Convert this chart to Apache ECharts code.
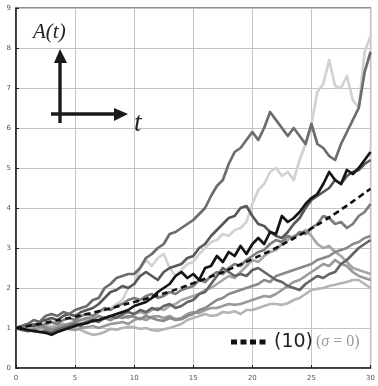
<!DOCTYPE html>
<html>
<head>
<meta charset="utf-8">
<script src="https://cdn.jsdelivr.net/npm/echarts@6/dist/echarts.min.js"></script>
<style>
    html, body { margin: 0; padding: 0; background: #fff; }
    #chart { width: 378px; height: 386px; }
</style>
</head>
<body>
<div id="chart"></div>
<script>
// Sample paths A(t), every 0.5 time units (t = 0 .. 30)
const pathLight = [1.0, 1.02, 1.0, 1.05, 1.04, 1.08, 1.05, 1.1, 1.08, 1.12, 1.15, 1.2, 1.25, 1.3, 1.4, 1.45, 1.5, 1.6, 1.7, 2.0, 2.1, 2.5, 2.7, 2.55, 2.75, 2.85, 2.5, 2.3, 2.45, 2.6, 2.65, 2.85, 3.0, 3.15, 3.2, 3.35, 3.3, 3.45, 3.5, 3.65, 4.1, 4.45, 4.6, 4.9, 5.0, 4.8, 4.9, 4.7, 5.2, 5.6, 6.1, 6.9, 7.1, 7.7, 7.05, 7.0, 7.3, 6.7, 6.5, 7.9, 8.3];
const pathDark1 = [1.0, 1.05, 1.1, 1.2, 1.15, 1.3, 1.35, 1.3, 1.4, 1.35, 1.45, 1.5, 1.55, 1.7, 1.75, 2.0, 2.1, 2.25, 2.3, 2.35, 2.35, 2.5, 2.75, 2.85, 3.0, 3.1, 3.35, 3.4, 3.5, 3.6, 3.7, 3.85, 4.0, 4.3, 4.55, 4.7, 5.1, 5.4, 5.5, 5.7, 5.9, 5.7, 6.0, 6.4, 6.2, 6.0, 5.8, 6.0, 5.8, 5.6, 6.1, 5.6, 5.5, 5.3, 5.2, 5.6, 5.9, 6.2, 6.5, 7.4, 7.9];
const pathBlack = [1.0, 0.98, 0.95, 0.92, 0.9, 0.88, 0.83, 0.9, 0.95, 1.0, 1.05, 1.1, 1.12, 1.18, 1.2, 1.25, 1.3, 1.35, 1.4, 1.45, 1.55, 1.6, 1.65, 1.75, 1.9, 2.0, 2.1, 2.3, 2.4, 2.25, 2.35, 2.2, 2.5, 2.55, 2.8, 2.65, 2.9, 2.8, 3.05, 2.85, 3.1, 3.25, 3.1, 3.4, 3.35, 3.8, 3.65, 3.75, 3.9, 4.1, 4.25, 4.35, 4.6, 4.9, 4.7, 4.6, 4.95, 4.85, 5.0, 5.2, 5.4];
const pathDark2 = [1.0, 1.05, 1.1, 1.05, 1.15, 1.2, 1.25, 1.2, 1.3, 1.35, 1.3, 1.4, 1.45, 1.5, 1.6, 1.75, 1.9, 1.95, 2.05, 2.0, 2.1, 2.3, 2.4, 2.3, 2.2, 2.4, 2.5, 2.55, 2.6, 2.75, 2.8, 3.0, 3.1, 3.3, 3.45, 3.6, 3.75, 3.8, 4.0, 4.05, 3.8, 3.6, 3.55, 3.4, 3.3, 3.25, 3.4, 3.6, 3.75, 4.0, 4.2, 4.3, 4.4, 4.5, 4.7, 4.6, 4.8, 4.9, 4.95, 5.1, 5.2];
const pathGray1 = [1.0, 1.0, 1.05, 1.1, 1.05, 1.1, 1.15, 1.1, 1.2, 1.25, 1.2, 1.3, 1.35, 1.3, 1.4, 1.5, 1.45, 1.55, 1.6, 1.7, 1.75, 1.7, 1.8, 1.85, 1.75, 1.8, 1.9, 1.85, 1.95, 2.0, 2.05, 2.2, 2.15, 2.3, 2.4, 2.35, 2.5, 2.6, 2.55, 2.7, 2.8, 2.9, 2.95, 3.1, 3.2, 3.15, 3.3, 3.25, 3.4, 3.35, 3.5, 3.6, 3.8, 3.75, 3.6, 3.65, 3.5, 3.6, 3.8, 3.9, 4.1];
const pathGray2 = [1.0, 0.95, 0.92, 0.95, 0.9, 0.92, 0.88, 0.95, 1.0, 1.05, 1.1, 1.05, 1.15, 1.2, 1.15, 1.25, 1.3, 1.25, 1.35, 1.4, 1.35, 1.45, 1.4, 1.5, 1.45, 1.55, 1.6, 1.5, 1.55, 1.65, 1.7, 1.85, 1.9, 2.1, 2.3, 2.5, 2.4, 2.3, 2.35, 2.3, 2.45, 2.5, 2.4, 2.3, 2.2, 2.15, 2.05, 2.0, 1.95, 2.1, 2.2, 2.3, 2.25, 2.35, 2.4, 2.6, 2.7, 2.85, 3.0, 3.1, 3.2];
const pathGray3 = [1.0, 1.02, 1.0, 0.97, 1.0, 1.05, 1.0, 1.05, 1.1, 1.05, 1.12, 1.1, 1.18, 1.15, 1.2, 1.25, 1.2, 1.28, 1.3, 1.25, 1.35, 1.4, 1.35, 1.45, 1.5, 1.45, 1.55, 1.6, 1.7, 1.75, 1.8, 1.85, 1.95, 2.0, 2.1, 2.2, 2.3, 2.25, 2.4, 2.55, 2.7, 2.65, 2.8, 2.9, 2.95, 3.1, 3.2, 3.3, 3.35, 3.45, 3.3, 3.1, 3.0, 3.05, 2.9, 2.8, 2.65, 2.5, 2.45, 2.4, 2.35];
const pathGray4 = [1.0, 0.97, 0.95, 1.0, 0.98, 1.02, 1.0, 0.97, 1.0, 1.03, 1.0, 0.95, 0.88, 0.83, 0.85, 0.9, 0.98, 0.96, 1.0, 1.03, 1.02, 0.98, 1.0, 0.95, 0.93, 0.97, 1.0, 1.05, 1.1, 1.2, 1.25, 1.3, 1.35, 1.3, 1.32, 1.4, 1.38, 1.42, 1.35, 1.45, 1.45, 1.5, 1.55, 1.6, 1.6, 1.58, 1.62, 1.7, 1.75, 1.85, 1.95, 1.98, 2.0, 2.05, 2.08, 2.12, 2.15, 2.2, 2.2, 2.1, 2.0];
const pathGray5 = [1.0, 1.03, 1.08, 1.05, 1.1, 1.0, 0.95, 1.0, 1.05, 1.1, 1.15, 1.2, 1.25, 1.22, 1.3, 1.25, 1.2, 1.28, 1.25, 1.3, 1.28, 1.22, 1.3, 1.25, 1.2, 1.18, 1.25, 1.2, 1.22, 1.3, 1.35, 1.45, 1.5, 1.6, 1.7, 1.75, 1.85, 1.9, 1.95, 2.0, 2.05, 2.1, 2.2, 2.15, 2.3, 2.35, 2.4, 2.45, 2.5, 2.55, 2.6, 2.7, 2.75, 2.8, 2.9, 2.95, 3.0, 3.1, 3.15, 3.25, 3.3];
const pathGray6 = [1.0, 0.97, 0.95, 0.98, 1.02, 0.97, 0.93, 0.97, 1.0, 0.97, 0.95, 1.0, 1.02, 1.05, 1.0, 1.05, 1.1, 1.12, 1.15, 1.1, 1.2, 1.25, 1.2, 1.28, 1.3, 1.25, 1.3, 1.22, 1.25, 1.35, 1.4, 1.38, 1.45, 1.5, 1.5, 1.55, 1.6, 1.58, 1.6, 1.65, 1.7, 1.75, 1.8, 1.78, 1.85, 1.95, 2.05, 2.15, 2.2, 2.3, 2.4, 2.5, 2.6, 2.55, 2.7, 2.6, 2.55, 2.4, 2.3, 2.25, 2.2];

// Deterministic curve (10) with sigma = 0, read every 1 time unit
const deterministic = [1.0, 1.05, 1.1, 1.16, 1.22, 1.28, 1.35, 1.42, 1.49, 1.57, 1.65, 1.73, 1.82, 1.91, 2.01, 2.12, 2.23, 2.34, 2.46, 2.59, 2.72, 2.86, 3.0, 3.16, 3.32, 3.49, 3.67, 3.86, 4.06, 4.27, 4.48];

const xTicks = [0, 5, 10, 15, 20, 25, 30];
const yTicks = [0, 1, 2, 3, 4, 5, 6, 7, 8, 9];

// Draw order: light paths at the back, black on top
const paths = [
    { data: pathLight, color: '#d2d2d2' },
    { data: pathGray4, color: '#b4b4b4' },
    { data: pathGray3, color: '#a6a6a6' },
    { data: pathGray6, color: '#9a9a9a' },
    { data: pathGray5, color: '#8a8a8a' },
    { data: pathGray1, color: '#7c7c7c' },
    { data: pathGray2, color: '#646464' },
    { data: pathDark2, color: '#585858' },
    { data: pathDark1, color: '#6c6c6c' },
    { data: pathBlack, color: '#151515' }
];

const chart = echarts.init(document.getElementById('chart'), null, { renderer: 'canvas' });

const series = paths.map(p => ({
    type: 'line',
    data: p.data.map((v, i) => [i * 0.5, v]),
    showSymbol: false,
    silent: true,
    lineStyle: { color: p.color, width: 2.7, join: 'round' }
}));

series.push({
    type: 'line',
    data: deterministic.map((v, i) => [i, v]),
    showSymbol: false,
    smooth: true,
    silent: true,
    z: 5,
    lineStyle: { color: '#111', width: 2.6, type: [6, 4] }
});

const axisFont = { color: '#555', fontSize: 7, fontFamily: 'DejaVu Sans' };

const option = {
    animation: false,
    backgroundColor: '#fff',
    grid: { left: 16, right: 2, top: 8, bottom: 18, show: true, borderColor: '#222', borderWidth: 1.2 },
    xAxis: {
        type: 'value', min: 0, max: 30, interval: 5,
        axisLine: { show: true, lineStyle: { color: '#222', width: 1.5 } },
        axisTick: { show: true, inside: true, length: 3, lineStyle: { color: '#222' } },
        axisLabel: Object.assign({ margin: 7, customValues: xTicks, showMaxLabel: true }, axisFont),
        splitLine: { lineStyle: { color: '#c4c4c4', width: 1 } }
    },
    yAxis: {
        type: 'value', min: 0, max: 9, interval: 1,
        axisLine: { show: true, lineStyle: { color: '#222', width: 1.5 } },
        axisTick: { show: true, inside: true, length: 3, lineStyle: { color: '#222' } },
        axisLabel: Object.assign({ margin: 5, customValues: yTicks }, axisFont),
        splitLine: { lineStyle: { color: '#c4c4c4', width: 1 } }
    },
    series: series,
    graphic: [
        // Axis sketch: A(t) vs t
        { type: 'line', shape: { x1: 60, y1: 123, x2: 60, y2: 60 }, style: { stroke: '#1a1a1a', lineWidth: 3.4 }, z: 10 },
        { type: 'polygon', shape: { points: [[60, 49], [54, 63], [67, 63]] }, style: { fill: '#1a1a1a' }, z: 10 },
        { type: 'line', shape: { x1: 51, y1: 114, x2: 117, y2: 114 }, style: { stroke: '#1a1a1a', lineWidth: 3.4 }, z: 10 },
        { type: 'polygon', shape: { points: [[128, 114], [114, 108], [114, 121]] }, style: { fill: '#1a1a1a' }, z: 10 },
        { type: 'text', x: 33, y: 43, style: { text: 'A(t)', fill: '#222', fontSize: 21, fontStyle: 'italic', fontFamily: 'Liberation Serif', textVerticalAlign: 'bottom' }, z: 10 },
        { type: 'text', x: 134, y: 137, style: { text: 't', fill: '#222', fontSize: 27, fontStyle: 'italic', fontFamily: 'Liberation Serif', textVerticalAlign: 'bottom' }, z: 10 },
        // Legend for the sigma = 0 curve
        { type: 'line', shape: { x1: 231, y1: 342, x2: 266, y2: 342 }, style: { stroke: '#111', lineWidth: 5, lineDash: [6, 3.5] }, z: 10 },
        { type: 'text', x: 274, y: 342, style: { text: '(10)', fill: '#222', fontSize: 19, fontFamily: 'DejaVu Sans', textVerticalAlign: 'middle' }, z: 10 },
        { type: 'text', x: 316, y: 342, style: { rich: { p: { fontSize: 16, fontFamily: 'Liberation Serif', fill: '#999' }, s: { fontSize: 16, fontStyle: 'italic', fontFamily: 'Liberation Serif', fill: '#999' } }, text: '{p|(}{s|σ}{p| = 0)}', textVerticalAlign: 'middle' }, z: 10 }
    ]
};

chart.setOption(option);
</script>
</body>
</html>
